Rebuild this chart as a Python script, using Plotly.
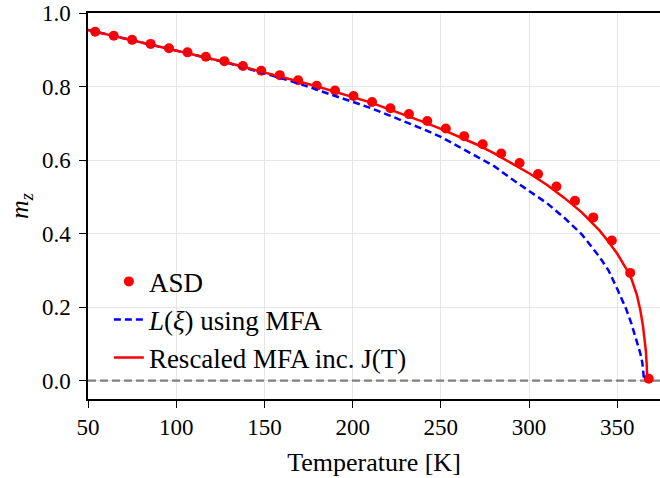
import plotly.graph_objects as go

# ASD simulation points
asd_T = [54.1, 64.6, 75.0, 85.5, 95.9, 106.4, 116.8, 127.3, 137.8, 148.2, 158.7,
         169.1, 179.6, 190.0, 200.5, 211.0, 221.4, 231.9, 242.3, 252.8, 263.2,
         273.7, 284.2, 294.6, 305.1, 315.5, 326.0, 336.4, 346.9, 357.3, 367.8]
asd_m = [0.949, 0.938, 0.927, 0.916, 0.904, 0.893, 0.881, 0.869, 0.856, 0.843, 0.831,
         0.817, 0.802, 0.789, 0.774, 0.758, 0.741, 0.725, 0.706, 0.686, 0.665,
         0.643, 0.618, 0.592, 0.562, 0.528, 0.489, 0.444, 0.381, 0.293, 0.005]

# L(xi) using MFA (blue dashed)
mfa_T = [50, 60, 70, 80, 90, 100, 110, 120, 130, 140, 150, 160, 170, 180, 190, 200,
         210, 220, 230, 240, 250, 260, 270, 280, 290, 300, 310, 320, 330, 340, 345,
         350, 355, 358, 361, 363, 364.2, 365.0, 365.2]
mfa_m = [0.954, 0.943, 0.932, 0.921, 0.910, 0.899, 0.887, 0.875, 0.863, 0.850, 0.836,
         0.822, 0.807, 0.791, 0.776, 0.760, 0.742, 0.723, 0.704, 0.684, 0.663, 0.637,
         0.610, 0.584, 0.549, 0.517, 0.483, 0.443, 0.397, 0.336, 0.300, 0.249, 0.195,
         0.155, 0.110, 0.075, 0.048, 0.015, 0.0]

# Rescaled MFA inc. J(T) (red solid)
res_T = [50, 60, 70, 80, 90, 100, 110, 120, 130, 140, 150, 160, 170, 180, 190, 200,
         210, 220, 230, 240, 250, 260, 270, 280, 290, 300, 310, 320, 330, 335, 340,
         345, 350, 355, 358, 361, 363, 364.5, 365.5, 366.2, 366.7, 367.0]
res_m = [0.954, 0.943, 0.932, 0.921, 0.910, 0.899, 0.887, 0.876, 0.864, 0.851, 0.839,
         0.826, 0.813, 0.800, 0.786, 0.771, 0.757, 0.739, 0.722, 0.704, 0.685, 0.665,
         0.643, 0.619, 0.592, 0.564, 0.533, 0.497, 0.457, 0.433, 0.408, 0.378, 0.345,
         0.305, 0.277, 0.235, 0.193, 0.150, 0.115, 0.080, 0.040, 0.0]

x_ticks = [50, 100, 150, 200, 250, 300, 350]
y_ticks = [0.0, 0.2, 0.4, 0.6, 0.8, 1.0]
y_tick_labels = ["0.0", "0.2", "0.4", "0.6", "0.8", "1.0"]
x_lim = [50, 374.2]
y_lim = [-0.05, 1.0]
zero_level = [0.0, 0.0]

FONT = "Liberation Serif"

fig = go.Figure()
# horizontal reference line at m_z = 0 (axhline across the x-limits)
fig.add_trace(go.Scatter(x=x_lim, y=zero_level, mode="lines", showlegend=False,
                         hoverinfo="skip",
                         line=dict(color="#808080", width=2.2, dash="8px,4px")))
fig.add_trace(go.Scatter(x=asd_T, y=asd_m, mode="markers", name="ASD",
                         legendgroup="a",
                         marker=dict(color="#ff0000", size=10)))
fig.add_trace(go.Scatter(x=mfa_T, y=mfa_m, mode="lines",
                         name="<i>L</i>(<i>ξ</i>) using MFA", legendgroup="b",
                         line=dict(color="#0000ff", width=2.5, dash="7px,4px")))
fig.add_trace(go.Scatter(x=res_T, y=res_m, mode="lines",
                         name="Rescaled MFA inc. J(T)", legendgroup="c",
                         line=dict(color="#ff0000", width=2.5)))

fig.update_layout(
    width=660, height=478,
    margin=dict(l=88, r=0, t=13, b=79),
    paper_bgcolor="white", plot_bgcolor="white",
    font=dict(family=FONT, size=23, color="black"),
    showlegend=True,
    legend=dict(x=0.0365, y=0.367, xanchor="left", yanchor="top",
                traceorder="grouped", tracegroupgap=0,
                bgcolor="rgba(255,255,255,0)", font=dict(size=27)),
    xaxis=dict(range=x_lim, tickvals=x_ticks, showgrid=True, automargin=False,
               gridcolor="#e6e6e6", gridwidth=1, showline=True, linecolor="black",
               linewidth=1.5, mirror=True, ticks="outside", ticklen=7,
               tickcolor="black", zeroline=False, tickfont=dict(size=23),
               title=dict(text="Temperature [K]", font=dict(size=26), standoff=13)),
    yaxis=dict(range=y_lim, tickvals=y_ticks, ticktext=y_tick_labels,
               automargin=False,
               showgrid=True, gridcolor="#e6e6e6", gridwidth=1, showline=True,
               linecolor="black", linewidth=1.5, ticks="outside", ticklen=7,
               tickcolor="black", zeroline=False, tickfont=dict(size=23),
               ticklabelstandoff=4,
               title=dict(text="<i>m</i><sub><i>z</i></sub>", font=dict(size=26),
                          standoff=6)),
)

# remove the page's default body margin so the figure fills the window exactly
fig.write_html("out.html", config={"displayModeBar": False},
               post_script="document.body.style.margin='0';document.body.style.overflow='hidden';")
